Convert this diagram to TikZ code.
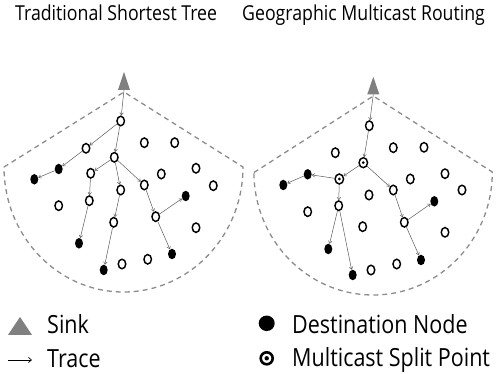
\documentclass[tikz,border=0pt]{standalone}
\usepackage{fontspec}
\setmainfont{Open Sans}[FakeStretch=0.86]
\usepackage{tikz}
\usetikzlibrary{shapes,arrows,positioning,calc,arrows.meta}

\definecolor{sinkgray}{RGB}{128,128,128}
\definecolor{zonegray}{RGB}{140,140,140}
\definecolor{tracegray}{RGB}{90,90,90}

\tikzset{
    opennode/.style={ellipse, draw, line width=1.45pt, minimum width=7.5pt, minimum height=9.5pt, inner sep=0pt},
    destnode/.style={ellipse, fill, minimum width=8pt, minimum height=10.5pt, inner sep=0pt},
    splitnode/.style={opennode, minimum width=8.5pt, minimum height=10pt, path picture={\fill (path picture bounding box.center) circle (1.5pt);}},
    trace/.style={draw=tracegray, line width=0.5pt, -{Straight Barb[length=2.5pt,width=3.5pt]}},
    zone/.style={draw=zonegray, line width=1.3pt, dash pattern=on 5pt off 4pt},
    title/.style={anchor=base west, inner sep=0pt, font=\fontsize{20.6}{24}\selectfont},
    legend/.style={anchor=base west, inner sep=0pt, font=\fontsize{25}{30}\selectfont}
}

\begin{document}
\begin{tikzpicture}[x=1pt,y=-1pt]
    \useasboundingbox (0,0) rectangle (499,374);

    % Titles
    \node[title] (tleft) at (15,21) {Traditional Shortest Tree};
    \node[title] (tright) at (242,21) {Geographic Multicast Routing};

    % Left: coverage zone and sink
    \draw[zone] (4,167) -- (124,92) -- (243,167) arc[start angle=0, end angle=180, x radius=119.5, y radius=125];
    \fill[sinkgray] (118,90) -- (124,72) -- (130,90) -- cycle;
    \coordinate (sinkA) at (124,90);

    % Left: nodes
    \node[opennode] (a1) at (120.7,121) {};
    \node[opennode] (a2) at (86,148.3) {};
    \node[destnode] (a3) at (58.7,169) {};
    \node[destnode] (a4) at (34.3,179.3) {};
    \node[opennode] (a5) at (114.3,157.3) {};
    \node[opennode] (a6) at (90.7,173.3) {};
    \node[opennode] (a7) at (89.3,200.7) {};
    \node[destnode] (a8) at (79,243.3) {};
    \node[opennode] (a9) at (120.7,190) {};
    \node[opennode] (a10) at (113.7,222.3) {};
    \node[destnode] (a11) at (103.7,270) {};
    \node[opennode] (a12) at (144.3,185) {};
    \node[opennode] (a13) at (155.7,216.7) {};
    \node[destnode] (a14) at (185.7,196) {};
    \node[destnode] (a15) at (172,254) {};
    \foreach \x/\y in {144.3/142.7, 174.7/142.7, 161.3/174, 196/168.3, 213.3/185.7,
                       58.7/205.7, 196/227.7, 122/264, 147.7/259.3}
        \node[opennode] at (\x,\y) {};

    % Left: traces
    \draw[trace] (sinkA) -- (a1);
    \foreach \from/\to in {a1/a2, a2/a3, a3/a4, a1/a5, a5/a6, a6/a7, a7/a8,
                           a5/a9, a9/a10, a10/a11, a5/a12, a12/a13, a13/a14, a13/a15}
        \draw[trace] (\from) -- (\to);

    % Right: coverage zone and sink
    \draw[zone] (254,172.5) -- (373.3,96) -- (492.3,172) arc[start angle=0, end angle=180, x radius=119.2, y radius=123];
    \fill[sinkgray] (367.3,94.3) -- (373.3,76.7) -- (379.3,94.3) -- cycle;
    \coordinate (sinkB) at (373.3,94.3);

    % Right: nodes
    \node[opennode] (b1) at (369.3,125.7) {};
    \node[splitnode] (b2) at (363.3,162.7) {};
    \node[splitnode] (b3) at (339.3,179) {};
    \node[destnode] (b4) at (307.7,174.3) {};
    \node[destnode] (b5) at (283.3,185) {};
    \node[opennode] (b6) at (338.7,205.7) {};
    \node[destnode] (b7) at (328.3,249) {};
    \node[destnode] (b8) at (352.7,275) {};
    \node[opennode] (b9) at (393.3,190) {};
    \node[opennode] (b10) at (404.3,222.3) {};
    \node[destnode] (b11) at (434.3,201.3) {};
    \node[destnode] (b12) at (421,260) {};
    \foreach \x/\y in {335.3/152.7, 393.3/147.7, 424/147.3, 410.3/179, 445/173.7, 462/190,
                       307.7/211.7, 369/195, 362.7/226.7, 445/232.3, 371/270, 396.7/264}
        \node[opennode] at (\x,\y) {};

    % Right: traces
    \draw[trace] (sinkB) -- (b1);
    \foreach \from/\to in {b1/b2, b2/b3, b3/b4, b4/b5, b3/b6, b6/b7, b6/b8,
                           b2/b9, b9/b10, b10/b11, b10/b12}
        \draw[trace] (\from) -- (\to);

    % Legend
    \fill[sinkgray] (8,335) -- (20,317) -- (32,335) -- cycle;
    \node[legend] (lsink) at (47,334) {Sink};
    \coordinate (ltraceA) at (8,360);
    \coordinate (ltraceB) at (32,360);
    \draw[line width=0.7pt, -{Straight Barb[length=3pt,width=5pt]}] (ltraceA) -- (ltraceB);
    \node[legend] (ltrace) at (47,367.3) {Trace};
    \node[ellipse, fill, minimum width=16pt, minimum height=15.5pt, inner sep=0pt] (ldest) at (266.7,323.3) {};
    \node[legend] (ldesttext) at (292,333.3) {Destination Node};
    \node[circle, draw, line width=2.6pt, minimum size=12pt, inner sep=0pt,
          path picture={\fill (path picture bounding box.center) circle (2.2pt);}] (lsplit) at (266.7,358.3) {};
    \node[legend] (lsplittext) at (292,366.7) {Multicast Split Point};
\end{tikzpicture}
\end{document}
